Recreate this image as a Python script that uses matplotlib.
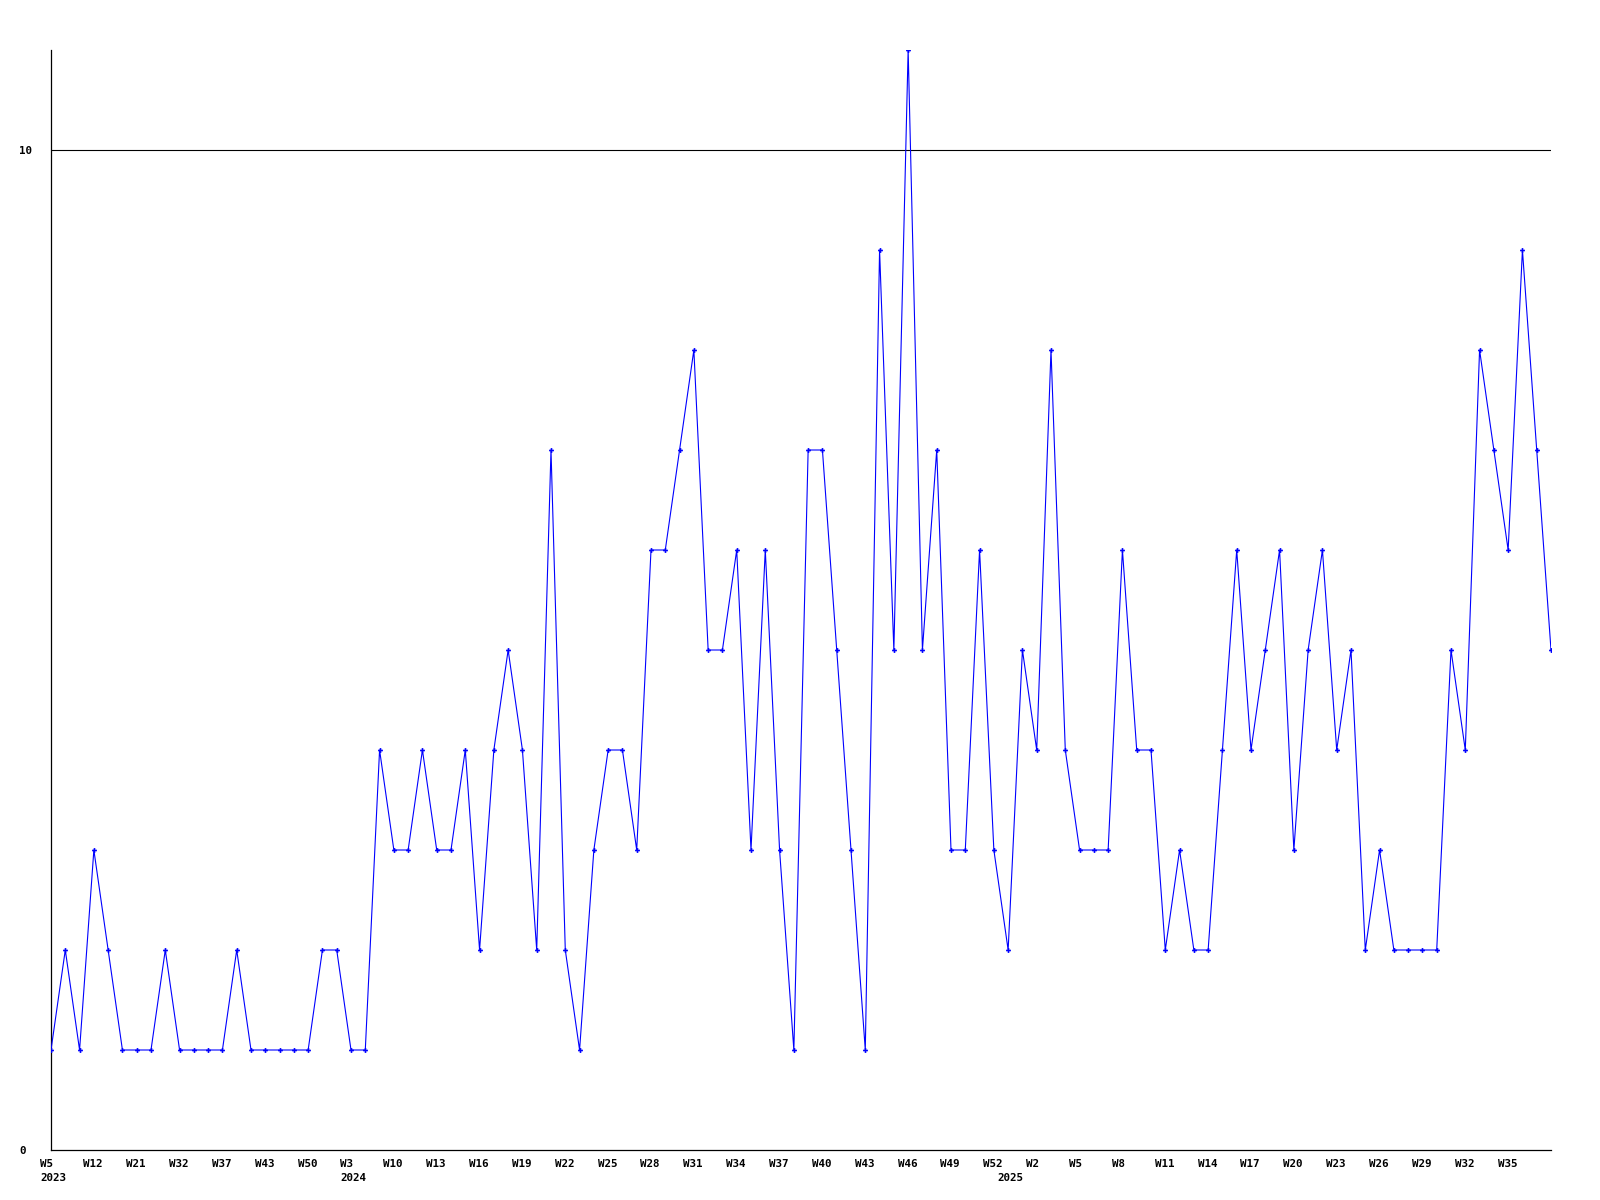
import matplotlib
matplotlib.use("Agg")
import matplotlib.pyplot as plt
import matplotlib.transforms as mtransforms
import numpy as np

# weekly counts, one value per week shown on the chart
counts = [
    1, 2, 1, 3, 2, 1, 1, 1, 2, 1, 1, 1, 1, 2, 1, 1, 1, 1, 1, 2, 2, 1, 1,
    4, 3, 3, 4, 3, 3, 4, 2, 4, 5, 4, 2, 7, 2, 1, 3, 4, 4, 3, 6, 6, 7, 8,
    5, 5, 6, 3, 6, 3, 1, 7, 7, 5, 3, 1, 9, 5, 11, 5, 7, 3, 3, 6, 3, 2, 5,
    4, 8, 4, 3, 3, 3, 6, 4, 4, 2, 3, 2, 2, 4, 6, 4, 5, 6, 3, 5, 6, 4, 5,
    2, 3, 2, 2, 2, 2, 5, 4, 8, 7, 6, 9, 7, 5,
]

# every third week gets a label
week_labels = [
    "W5", "W12", "W21", "W32", "W37", "W43", "W50",
    "W3", "W10", "W13", "W16", "W19", "W22", "W25", "W28", "W31",
    "W34", "W37", "W40", "W43", "W46", "W49", "W52",
    "W2", "W5", "W8", "W11", "W14", "W17", "W20", "W23", "W26",
    "W29", "W32", "W35",
]
tick_step = 3

# year marks sit on the first week of each year
year_labels = ["2023", "2024", "2025"]
year_pos = [0, 21, 67]

y_ticks = [0, 10]

x = np.arange(len(counts))

fig = plt.figure(figsize=(16, 12), dpi=100)
ax = fig.add_axes([51 / 1600, 50 / 1200, 1500 / 1600, 1100 / 1200])

ax.axhline(10, color="black", linewidth=0.8, zorder=1)
ax.plot(x, counts, color="#0000ff", linewidth=0.8, marker="P",
        markersize=3.5, markeredgewidth=0, zorder=3)

ax.set_xlim(0, len(counts) - 1)
ax.set_ylim(0, 11)

for side in ("top", "right"):
    ax.spines[side].set_visible(False)
for side in ("left", "bottom"):
    ax.spines[side].set_linewidth(0.9)

font = dict(family="DejaVu Sans Mono", weight="bold", size=7.8)

# keep year ticks even where they land on a week tick
ax.xaxis.remove_overlapping_locs = False

ax.set_xticks(x[::tick_step][:len(week_labels)])
ax.set_xticklabels(week_labels, ha="left", va="top", **font)
ax.set_xticks(year_pos, minor=True)
ax.set_xticklabels(year_labels, minor=True, ha="left", va="top", **font)
ax.tick_params(axis="x", which="major", length=0, pad=6.5)
ax.tick_params(axis="x", which="minor", length=0, pad=16.8)
shift = mtransforms.ScaledTranslation(-10.5 / 100, 0, fig.dpi_scale_trans)
for lbl in ax.get_xticklabels() + ax.get_xticklabels(minor=True):
    lbl.set_transform(lbl.get_transform() + shift)

ax.set_yticks(y_ticks)
ax.set_yticklabels([str(v) for v in y_ticks], ha="left", **font)
ax.tick_params(axis="y", length=0, pad=23)

fig.savefig("out.png", dpi=100)
